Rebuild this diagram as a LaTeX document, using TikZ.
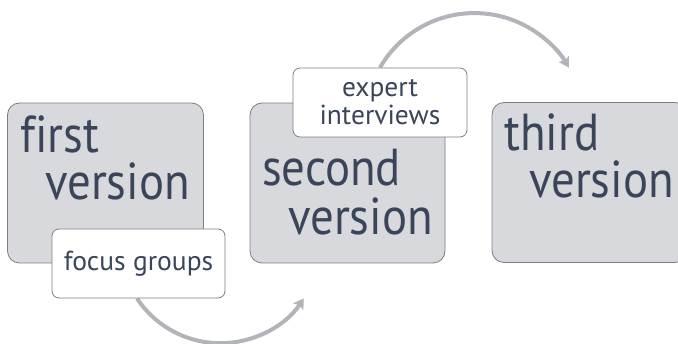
\documentclass[tikz,border=0pt]{standalone}
\usepackage{fontspec}
\setmainfont[Ligatures=NoCommon]{PT Sans}
\newfontfamily\bigfont[FakeStretch=0.9,Ligatures=NoCommon]{PT Sans}
\usetikzlibrary{arrows.meta}
\definecolor{boxfill}{RGB}{216,217,220}
\definecolor{boxline}{RGB}{125,126,130}
\definecolor{txt}{RGB}{58,69,90}
\definecolor{arcc}{RGB}{178,180,186}
\pgfdeclarelayer{bg}
\pgfsetlayers{bg,main}
\begin{document}
\begin{tikzpicture}[x=1pt,y=-1pt,
  verbox/.style={draw=boxline, fill=boxfill, line width=0.8pt, rounded corners=12pt,
    minimum width=195pt, minimum height=160pt, inner sep=0pt},
  tagbox/.style={draw=boxline, fill=white, line width=0.8pt, rounded corners=7pt,
    inner sep=0pt, minimum width=173pt, minimum height=69pt, align=center,
    font=\fontsize{27.5}{28}\selectfont, text=txt},
  bigtext/.style={font=\bigfont\fontsize{52}{52}\selectfont, text=txt, inner sep=0pt, anchor=base west},
  flow/.style={draw=arcc, line width=4pt, -{Stealth[length=10pt,width=12pt,inset=2pt]}}]
\useasboundingbox (0,0) rectangle (678,344);
\node[verbox, minimum width=196pt] (v1) at (105.5,183) {};
\node[tagbox] (focus) at (138.5,263.5) {focus groups};
\node[verbox] (v2) at (347.5,183) {};
\node[tagbox, minimum width=174pt] (expert) at (380,102.5) {expert\\interviews};
\node[verbox] (v3) at (589.5,182.5) {};
\node[bigtext] (t1a) at (20,153) {first};
\node[bigtext] (t1b) at (45,200) {version};
\node[bigtext] (t2a) at (262,186) {second};
\node[bigtext] (t2b) at (288,235) {version};
\node[bigtext] (t3a) at (504,151) {third};
\node[bigtext] (t3b) at (529,198) {version};
\begin{pgfonlayer}{bg}
\draw[flow] ([xshift=-1.5pt]focus.south) arc[start angle=146.5, end angle=33.5, radius=100];
\draw[flow] (expert.north) arc[start angle=210, end angle=330, radius=109];
\end{pgfonlayer}
\end{tikzpicture}
\end{document}
